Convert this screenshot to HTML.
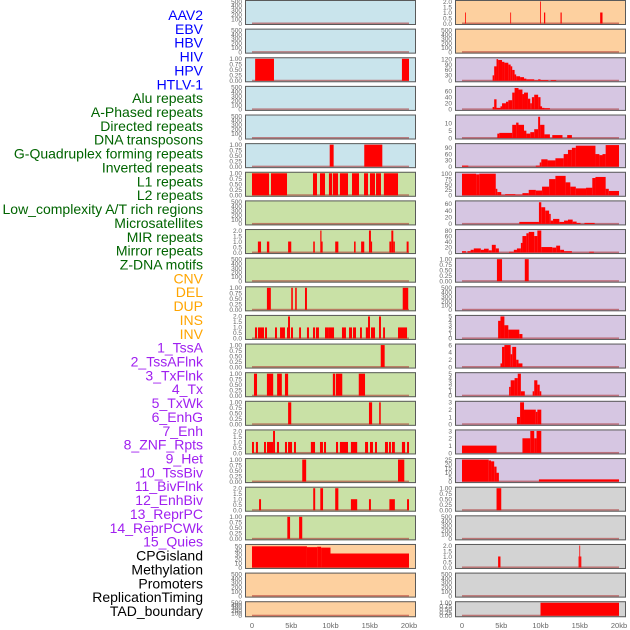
<!DOCTYPE html>
<html><head><meta charset="utf-8"><style>
html,body{margin:0;padding:0;background:#fff;}
svg{display:block;font-family:"Liberation Sans",sans-serif;}
</style></head><body>
<svg id="chart" width="630" height="630" viewBox="0 0 630 630">
<g id="labels"></g>
<g id="panels"></g>
<g id="xaxes"></g>
</svg>
<script>
const trackNames = ["AAV2","EBV","HBV","HIV","HPV","HTLV-1","Alu repeats","A-Phased repeats","Directed repeats","DNA transposons","G-Quadruplex forming repeats","Inverted repeats","L1 repeats","L2 repeats","Low_complexity A/T rich regions","Microsatellites","MIR repeats","Mirror repeats","Z-DNA motifs","CNV","DEL","DUP","INS","INV","1_TssA","2_TssAFlnk","3_TxFlnk","4_Tx","5_TxWk","6_EnhG","7_Enh","8_ZNF_Rpts","9_Het","10_TssBiv","11_BivFlnk","12_EnhBiv","13_ReprPC","14_ReprPCWk","15_Quies","CPGisland","Methylation","Promoters","ReplicationTiming","TAD_boundary"];
const trackGroups = ["viral","viral","viral","viral","viral","viral","rep","rep","rep","rep","rep","rep","rep","rep","rep","rep","rep","rep","rep","sv","sv","sv","sv","sv","chrom","chrom","chrom","chrom","chrom","chrom","chrom","chrom","chrom","chrom","chrom","chrom","chrom","chrom","chrom","other","other","other","other","other"];
const trackTickSets = ["e","e","u","e","e","u","u","e","t","e","u","t","u","u","u","t","u","t","u","cnv","e","e","t","e","tssa","flnk","tx","tx4","txwk","enhg","enh","u","e","b5","b6","b5","b3","b3","q","u","e","t","e","u"];
const xTickValues = [0,5,10,15,20];
const xTickLabels = ["0","5kb","10kb","15kb","20kb"];
const tickSets = {
 e:{max:500,ticks:[0,100,200,300,400,500],labels:["0","100","200","300","400","500"]},
 u:{max:1,ticks:[0,0.25,0.5,0.75,1],labels:["0.00","0.25","0.50","0.75","1.00"]},
 t:{max:2,ticks:[0,0.5,1,1.5,2],labels:["0.0","0.5","1.0","1.5","2.0"]},
 cnv:{max:52,ticks:[0,10,20,30,40,50],labels:["0","10","20","30","40","50"]},
 tssa:{max:122,ticks:[0,30,60,90,120],labels:["0","30","60","90","120"]},
 flnk:{max:72,ticks:[0,20,40,60],labels:["0","20","40","60"]},
 tx:{max:15,ticks:[0,5,10],labels:["0","5","10"]},
 tx4:{max:105,ticks:[0,30,60,90],labels:["0","30","60","90"]},
 txwk:{max:102,ticks:[0,25,50,75,100],labels:["0","25","50","75","100"]},
 enhg:{max:66,ticks:[0,20,40,60],labels:["0","20","40","60"]},
 enh:{max:80,ticks:[0,20,40,60,80],labels:["0","20","40","60","80"]},
 b5:{max:5,ticks:[0,1,2,3,4,5],labels:["0","1","2","3","4","5"]},
 b6:{max:6,ticks:[0,2,4,6],labels:["0","2","4","6"]},
 b3:{max:3,ticks:[0,1,2,3],labels:["0","1","2","3"]},
 q:{max:25,ticks:[0,5,10,15,20,25],labels:["0","5","10","15","20","25"]}
};
// segments: [start_kb, end_kb, value]
const seg_AAV2=[], seg_EBV=[];
const seg_HBV=[[0.4,2.8,1],[19.1,20,1]];
const seg_HIV=[], seg_HPV=[];
const seg_HTLV1=[[9.9,10.4,1],[14.3,16.6,1]];
const seg_Alu=[[0,2.17,1],[2.42,4.46,1],[7.77,8.28,1],[8.66,9.3,1],[9.8,10.2,1],[10.3,10.96,1],[11.2,12.23,1],[12.74,13.63,1],[14.27,14.78,1],[15.03,15.67,1],[15.8,16.43,1],[16.8,18.6,1]];
const seg_APhased=[];
const seg_Directed=[[0.75,1.15,1],[1.9,2.2,1],[4.6,5.0,1],[7.8,8.0,1],[8.7,8.85,2],[8.85,9.0,1],[10.6,11.0,1],[13.0,13.2,1],[13.9,14.3,1],[14.9,15.15,2],[15.15,15.3,1],[17.5,17.75,1],[17.75,18.0,2],[18.0,18.2,1],[19.7,19.95,1]];
const seg_DNAtrans=[];
const seg_GQuad=[[1.9,2.4,1],[5.0,5.2,1],[5.5,5.7,1],[6.75,7.0,1],[19.2,19.9,1]];
const seg_Inverted=[[0.38,0.64,1],[0.76,1.02,1],[1.02,1.53,1],[1.66,1.91,1],[2.93,3.18,1],[3.57,4.2,1],[4.46,4.59,1],[4.59,4.84,2],[4.97,5.22,1],[6.0,6.24,1],[7.0,7.26,1],[7.77,8.03,1],[8.15,8.53,1],[9.3,9.8,1],[9.8,10.45,1],[11.46,11.97,1],[12.36,12.74,1],[12.87,13.25,1],[13.76,14.0,1],[14.5,14.78,1],[14.78,15.03,2],[15.16,15.67,1],[16.18,16.43,2],[16.7,16.94,1],[18.6,19.75,1]];
const seg_L1=[[16.4,16.9,1]];
const seg_L2=[[0.25,0.64,1],[1.9,2.7,1],[3.2,3.8,1],[4.2,4.6,1],[10.3,10.6,1],[10.7,11.5,1],[13.6,14.4,1]];
const seg_LowComp=[[4.6,5.0,1],[14.9,15.3,1],[16.2,16.4,1]];
const seg_Micro=[[0,0.25,1],[0.5,0.76,1],[1.53,1.78,1],[1.91,2.68,1],[2.68,2.93,2],[3.18,3.44,1],[4.2,4.46,1],[4.59,5.1,1],[5.35,5.6,1],[7.5,8.03,1],[8.66,9.04,1],[9.17,9.43,1],[10.7,10.96,1],[11.2,12.23,1],[12.6,13.4,1],[14.4,14.78,1],[15.03,15.41,1],[15.67,15.92,1],[16.94,17.32,1],[17.45,17.7,1],[17.83,18.2,1],[19.1,19.5,1],[19.75,20,1]];
const seg_MIR=[[6.4,6.9,1],[18.6,19.4,1]];
const seg_Mirror=[[0.9,1.15,1],[7.8,8.05,2],[8.7,9.05,2],[10.6,11.0,2],[12.6,13.4,1],[14.9,15.15,1],[17.5,18.2,1],[19.75,20,1]];
const seg_ZDNA=[[4.5,4.85,1],[6.0,6.4,1]];
const seg_CNV=[[0,7.0,50],[7.0,8.3,48],[8.3,8.8,49],[8.8,10.0,47],[10.0,20,33]];
const seg_DEL=[], seg_DUP=[];
const seg_INS=[[0.4,0.5,1],[6.15,6.25,1],[9.95,10.05,2],[10.45,10.6,1],[12.55,12.7,1],[17.6,17.9,1]];
const seg_INV=[];
const seg_TssA=[[3.9,4.1,30],[4.1,4.4,80],[4.4,4.6,120],[4.6,5.1,115],[5.1,5.4,105],[5.4,5.9,100],[5.9,6.2,90],[6.2,6.4,80],[6.4,6.7,60],[6.7,6.9,35],[6.9,7.4,25],[7.4,7.9,20],[7.9,8.2,12],[8.2,9.2,8],[9.2,9.7,3],[9.7,10.0,8],[10.0,11.0,4],[11.3,12.0,4]];
const seg_TssAFlnk=[[3.9,4.1,8],[4.1,4.4,33],[4.4,4.9,5],[4.9,5.1,10],[5.1,5.6,20],[5.6,5.9,25],[5.9,6.4,30],[6.4,6.7,55],[6.7,7.2,70],[7.2,7.7,65],[7.7,7.9,50],[7.9,8.4,55],[8.4,8.7,35],[8.7,8.9,20],[8.9,9.2,40],[9.2,9.7,48],[9.7,10.0,40],[10.0,10.2,10],[10.2,10.5,5],[10.5,11.2,4]];
const seg_TxFlnk=[[4.5,4.75,3],[4.75,6.4,3.5],[6.4,6.9,9],[6.9,7.2,10.5],[7.2,7.9,9],[7.9,8.2,5],[8.2,8.7,3],[8.7,9.2,4],[9.2,9.7,6],[9.7,9.95,14.5],[9.95,10.5,9],[10.5,11.2,2.5],[11.5,12.8,2],[13.4,14.0,2]];
const seg_Tx=[[0,0.8,5],[9.4,9.9,5],[9.9,10.1,20],[10.1,10.9,35],[10.9,11.9,30],[11.9,12.95,40],[12.95,13.5,60],[13.5,14.0,80],[14.0,14.5,90],[14.5,17.0,100],[17.0,17.5,60],[17.5,17.9,55],[17.9,18.3,60],[18.3,20,103]];
const seg_TxWk=[[0,1.8,100],[1.8,2.2,97],[2.2,4.3,100],[4.3,4.5,30],[4.5,5.0,15],[5.0,5.5,2],[5.5,6.8,5],[6.8,7.7,3],[7.7,8.5,10],[8.5,9.4,25],[9.4,10.2,22],[10.2,11.1,40],[11.1,11.9,75],[11.9,13.2,90],[13.2,13.8,60],[13.8,14.5,40],[14.5,15.8,32],[15.8,16.6,35],[16.6,17.0,80],[17.0,18.3,85],[18.3,18.7,30],[18.7,20,20]];
const seg_EnhG=[[7.3,9.8,6],[9.8,10.1,65],[10.1,10.6,50],[10.6,11.1,40],[11.1,11.3,30],[11.3,11.6,10],[11.6,12.4,15],[12.4,13.0,6],[13.0,13.5,10],[13.5,14.1,13],[14.1,14.6,7],[14.6,15.1,3],[15.6,16.9,3]];
const seg_Enh=[[0,0.5,5],[0.7,1.1,5],[1.1,1.5,10],[1.5,2.4,15],[2.4,2.8,10],[2.8,3.4,14],[3.4,3.8,8],[3.8,4.3,28],[4.3,4.7,15],[6.0,6.6,3],[6.6,7.0,10],[7.0,7.5,15],[7.5,7.7,35],[7.7,8.2,60],[8.2,8.5,70],[8.5,9.2,75],[9.2,9.6,60],[9.6,10.1,80],[10.1,11.5,20],[11.5,12.0,18],[12.0,12.5,25],[12.5,13.0,10],[13.0,14.0,5],[16.2,16.8,3]];
const seg_ZNF=[[4.45,5.1,1],[8.0,8.5,1]];
const seg_Het=[];
const seg_TssBiv=[[4.6,4.9,4],[4.9,5.4,5],[5.4,5.9,3],[5.9,7.3,2],[7.3,7.7,1]];
const seg_BivFlnk=[[4.9,5.1,1],[5.1,5.4,5.5],[5.4,6.2,6],[6.2,6.4,3.5],[6.4,6.9,5.5],[6.9,7.2,2],[7.2,7.7,1]];
const seg_EnhBiv=[[6.0,6.2,2],[6.2,6.7,3.5],[6.7,7.1,4],[7.1,7.5,5],[7.5,8.0,1],[9.0,9.2,1],[9.2,9.6,3.5],[9.6,9.9,2.5],[9.9,10.1,1]];
const seg_ReprPC=[[7.0,7.4,1],[7.4,7.9,3],[7.9,9.4,2],[9.4,9.6,1.7],[9.6,10.1,2]];
const seg_ReprPCWk=[[0,4.4,1],[7.7,8.7,2],[8.7,9.2,3],[9.2,9.5,2],[9.5,10.1,3]];
const seg_Quies=[[0,3.4,25],[3.4,3.7,24],[3.7,4.1,23],[4.1,4.4,17],[4.4,4.7,10],[9.8,20,2.5]];
const seg_CPG=[[4.4,5.0,1]];
const seg_Methyl=[];
const seg_Promoters=[[4.6,4.9,1],[14.85,14.95,1],[14.95,15.05,2],[15.05,15.2,1]];
const seg_RepTiming=[];
const seg_TAD=[[10.0,20,1]];
const trackSegments=[seg_AAV2,seg_EBV,seg_HBV,seg_HIV,seg_HPV,seg_HTLV1,seg_Alu,seg_APhased,seg_Directed,seg_DNAtrans,seg_GQuad,seg_Inverted,seg_L1,seg_L2,seg_LowComp,seg_Micro,seg_MIR,seg_Mirror,seg_ZDNA,seg_CNV,seg_DEL,seg_DUP,seg_INS,seg_INV,seg_TssA,seg_TssAFlnk,seg_TxFlnk,seg_Tx,seg_TxWk,seg_EnhG,seg_Enh,seg_ZNF,seg_Het,seg_TssBiv,seg_BivFlnk,seg_EnhBiv,seg_ReprPC,seg_ReprPCWk,seg_Quies,seg_CPG,seg_Methyl,seg_Promoters,seg_RepTiming,seg_TAD];

const NS="http://www.w3.org/2000/svg";
const labelColors={viral:"#0000ff",rep:"#006400",sv:"#ffa500",chrom:"#a020f0",other:"#000000"};
const bgColors={viral:"#c9e4ec",rep:"#c9e1a6",sv:"#fdd09f",chrom:"#d6c6e2",other:"#d3d3d3"};
function mk(tag,attrs,parent){const e=document.createElementNS(NS,tag);for(const k in attrs)e.setAttribute(k,attrs[k]);parent.appendChild(e);return e;}
const labelsG=document.getElementById('labels');
const panelsG=document.getElementById('panels');
const xG=document.getElementById('xaxes');
const kbMax=20;
trackNames.forEach((n,i)=>{
  const t=mk('text',{x:203,y:15+i*13.86+5,'text-anchor':'end','font-size':'14',fill:labelColors[trackGroups[i]]},labelsG);
  t.textContent=n;
  
  
});
trackNames.forEach((n,i)=>{
  const col=i<22?0:1, row=i%22;
  const px=col===0?245:455, pw=171;
  const py=row*28.63, ph=row===21?16:25;
  const g=mk('g',{},panelsG);
  
  
  mk('rect',{x:px,y:py,width:pw,height:ph,fill:bgColors[trackGroups[i]]},g);
  const ts=tickSets[trackTickSets[i]];
  const x0=px+7, xs=157/kbMax;
  const yb=py+ph-1.5, yh=ph-3;
  const yScale=v=>yb-v/ts.max*yh;
  const xScale=kb=>x0+kb*xs;
  mk('rect',{x:xScale(0),y:yb-1,width:xScale(kbMax)-xScale(0),height:1.5,fill:"rgba(170,40,40,0.55)"},g);
  trackSegments[i].forEach(s=>{
    const r=mk('rect',{x:xScale(s[0]),y:yScale(s[2]),width:Math.max(0.8,xScale(s[1])-xScale(s[0])),height:yb-yScale(s[2]),fill:"#ff0000"},g);
    
    
  });
  mk('rect',{x:px+0.5,y:py+0.5,width:pw-1,height:ph-1,fill:"none",stroke:"#5a5a5a","stroke-width":1},g);
  ts.ticks.forEach((v,k)=>{
    const tt=mk('text',{x:px-3,y:yScale(v)+2.3,'text-anchor':'end','font-size':'6.5',fill:"#666"},g);
    tt.textContent=ts.labels[k];
    
    
  });
});
[245,455].forEach(px=>{
  xTickValues.forEach((v,k)=>{
    const t=mk('text',{x:px+7+v*157/kbMax,y:628,'text-anchor':'middle','font-size':'7.5',fill:"#666"},xG);
    t.textContent=xTickLabels[k];
    
    
  });
});
</script>
</body></html>
